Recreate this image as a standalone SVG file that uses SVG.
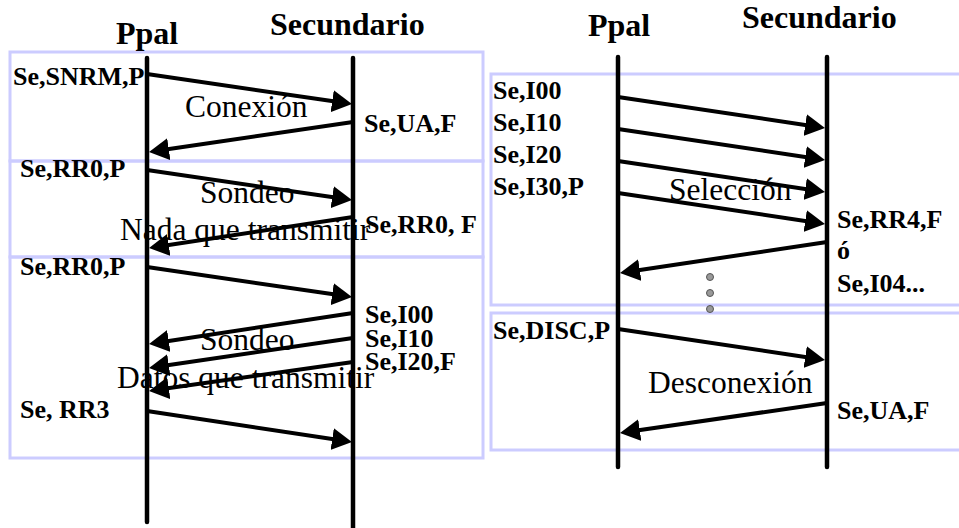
<svg xmlns="http://www.w3.org/2000/svg" width="959" height="528" viewBox="0 0 959 528">
  <style>
    .frame { fill: none; stroke: #ccccff; stroke-width: 3; }
    .life { stroke: #000; stroke-width: 4.5; stroke-linecap: round; fill: none; }
    .msg { stroke: #000; stroke-width: 4; fill: none; marker-end: url(#head); }
    .hdr { font-family: "Liberation Serif", "Times New Roman", serif; font-weight: bold; font-size: 32px; fill: #000; }
    .lbl { font-family: "Liberation Serif", "Times New Roman", serif; font-weight: bold; font-size: 26px; fill: #000; }
    .phase { font-family: "Liberation Serif", "Times New Roman", serif; font-size: 31.5px; fill: #000; }
    .dot { fill: #999; stroke: #555; stroke-width: 1; }
  </style>
  <defs>
    <marker id="head" markerUnits="userSpaceOnUse" viewBox="0 0 20 22" markerWidth="20" markerHeight="22" refX="10" refY="11" orient="auto">
      <path d="M0,0 L20,11 L0,22 z" fill="#000"/>
    </marker>
  </defs>

  <rect width="959" height="528" fill="#fff"/>

  <!-- phase frames -->
  <g id="frames">
    <rect class="frame" x="10" y="52" width="473" height="109"/>
    <rect class="frame" x="10" y="161" width="473" height="96"/>
    <rect class="frame" x="10" y="257" width="473" height="201"/>
    <rect class="frame" x="491" y="74" width="480" height="231"/>
    <rect class="frame" x="491" y="313" width="480" height="137"/>
  </g>

  <!-- frame labels -->
  <g id="labels-left">
    <text class="lbl" x="13" y="85">Se,SNRM,P</text>
    <text class="phase" x="185" y="117">Conexión</text>
    <text class="lbl" x="364" y="132">Se,UA,F</text>
    <text class="lbl" x="20" y="177">Se,RR0,P</text>
    <text class="phase" x="200" y="203">Sondeo</text>
    <text class="lbl" x="365" y="233">Se,RR0, F</text>
    <text class="phase" x="120" y="240">Nada que transmitir</text>
    <text class="lbl" x="20" y="275">Se,RR0,P</text>
    <text class="lbl" x="365" y="323">Se,I00</text>
    <text class="lbl" x="365" y="347">Se,I10</text>
    <text class="lbl" x="365" y="370">Se,I20,F</text>
    <text class="phase" x="200" y="350">Sondeo</text>
    <text class="phase" x="117" y="388">Datos que transmitir</text>
    <text class="lbl" x="20" y="418">Se, RR3</text>
  </g>
  <g id="labels-right">
    <text class="lbl" x="493" y="99">Se,I00</text>
    <text class="lbl" x="493" y="131">Se,I10</text>
    <text class="lbl" x="493" y="163">Se,I20</text>
    <text class="lbl" x="493" y="195">Se,I30,P</text>
    <text class="phase" x="669" y="200">Selección</text>
    <text class="lbl" x="837" y="228">Se,RR4,F</text>
    <text class="lbl" x="837" y="259">ó</text>
    <text class="lbl" x="837" y="292">Se,I04...</text>
    <text class="lbl" x="493" y="339">Se,DISC,P</text>
    <text class="phase" x="648" y="393">Desconexión</text>
    <text class="lbl" x="837" y="419">Se,UA,F</text>
  </g>

  <!-- stations: left sequence -->
  <g id="ppal-1">
    <text class="hdr" x="116" y="44">Ppal</text>
    <line class="life" x1="147" y1="58" x2="147" y2="522"/>
  </g>
  <g id="secundario-1">
    <text class="hdr" x="270" y="35">Secundario</text>
    <line class="life" x1="353" y1="58" x2="353" y2="532"/>
  </g>

  <!-- stations: right sequence -->
  <g id="ppal-2">
    <text class="hdr" x="588" y="36">Ppal</text>
    <line class="life" x1="618" y1="57" x2="618" y2="467"/>
  </g>
  <g id="secundario-2">
    <text class="hdr" x="742" y="28">Secundario</text>
    <line class="life" x1="827" y1="57" x2="827" y2="467"/>
  </g>

  <!-- continuation dots -->
  <g id="ellipsis">
    <circle class="dot" cx="710" cy="277" r="3.5"/>
    <circle class="dot" cx="710" cy="293" r="3.5"/>
    <circle class="dot" cx="710" cy="309" r="3.5"/>
  </g>

  <!-- frames exchanged -->
  <g id="connectors">
    <line class="msg" x1="147" y1="74" x2="342.1" y2="102.6"/>
    <line class="msg" x1="353" y1="122" x2="158.9" y2="150.6"/>
    <line class="msg" x1="147" y1="170" x2="342.1" y2="198.6"/>
    <line class="msg" x1="353" y1="217" x2="158.9" y2="246.5"/>
    <line class="msg" x1="147" y1="267" x2="342.1" y2="295.6"/>
    <line class="msg" x1="353" y1="313" x2="158.9" y2="342.5"/>
    <line class="msg" x1="353" y1="338" x2="158.9" y2="366.6"/>
    <line class="msg" x1="353" y1="362" x2="158.9" y2="389.6"/>
    <line class="msg" x1="147" y1="411" x2="342.1" y2="440.5"/>

    <line class="msg" x1="618" y1="97" x2="815.1" y2="126.5"/>
    <line class="msg" x1="618" y1="129" x2="815.1" y2="158.5"/>
    <line class="msg" x1="618" y1="161" x2="815.1" y2="190.5"/>
    <line class="msg" x1="618" y1="193" x2="815.1" y2="222.5"/>
    <line class="msg" x1="827" y1="242" x2="629.9" y2="271.5"/>
    <line class="msg" x1="618" y1="329" x2="815.1" y2="358.5"/>
    <line class="msg" x1="827" y1="403" x2="629.9" y2="431.5"/>
  </g>
</svg>
